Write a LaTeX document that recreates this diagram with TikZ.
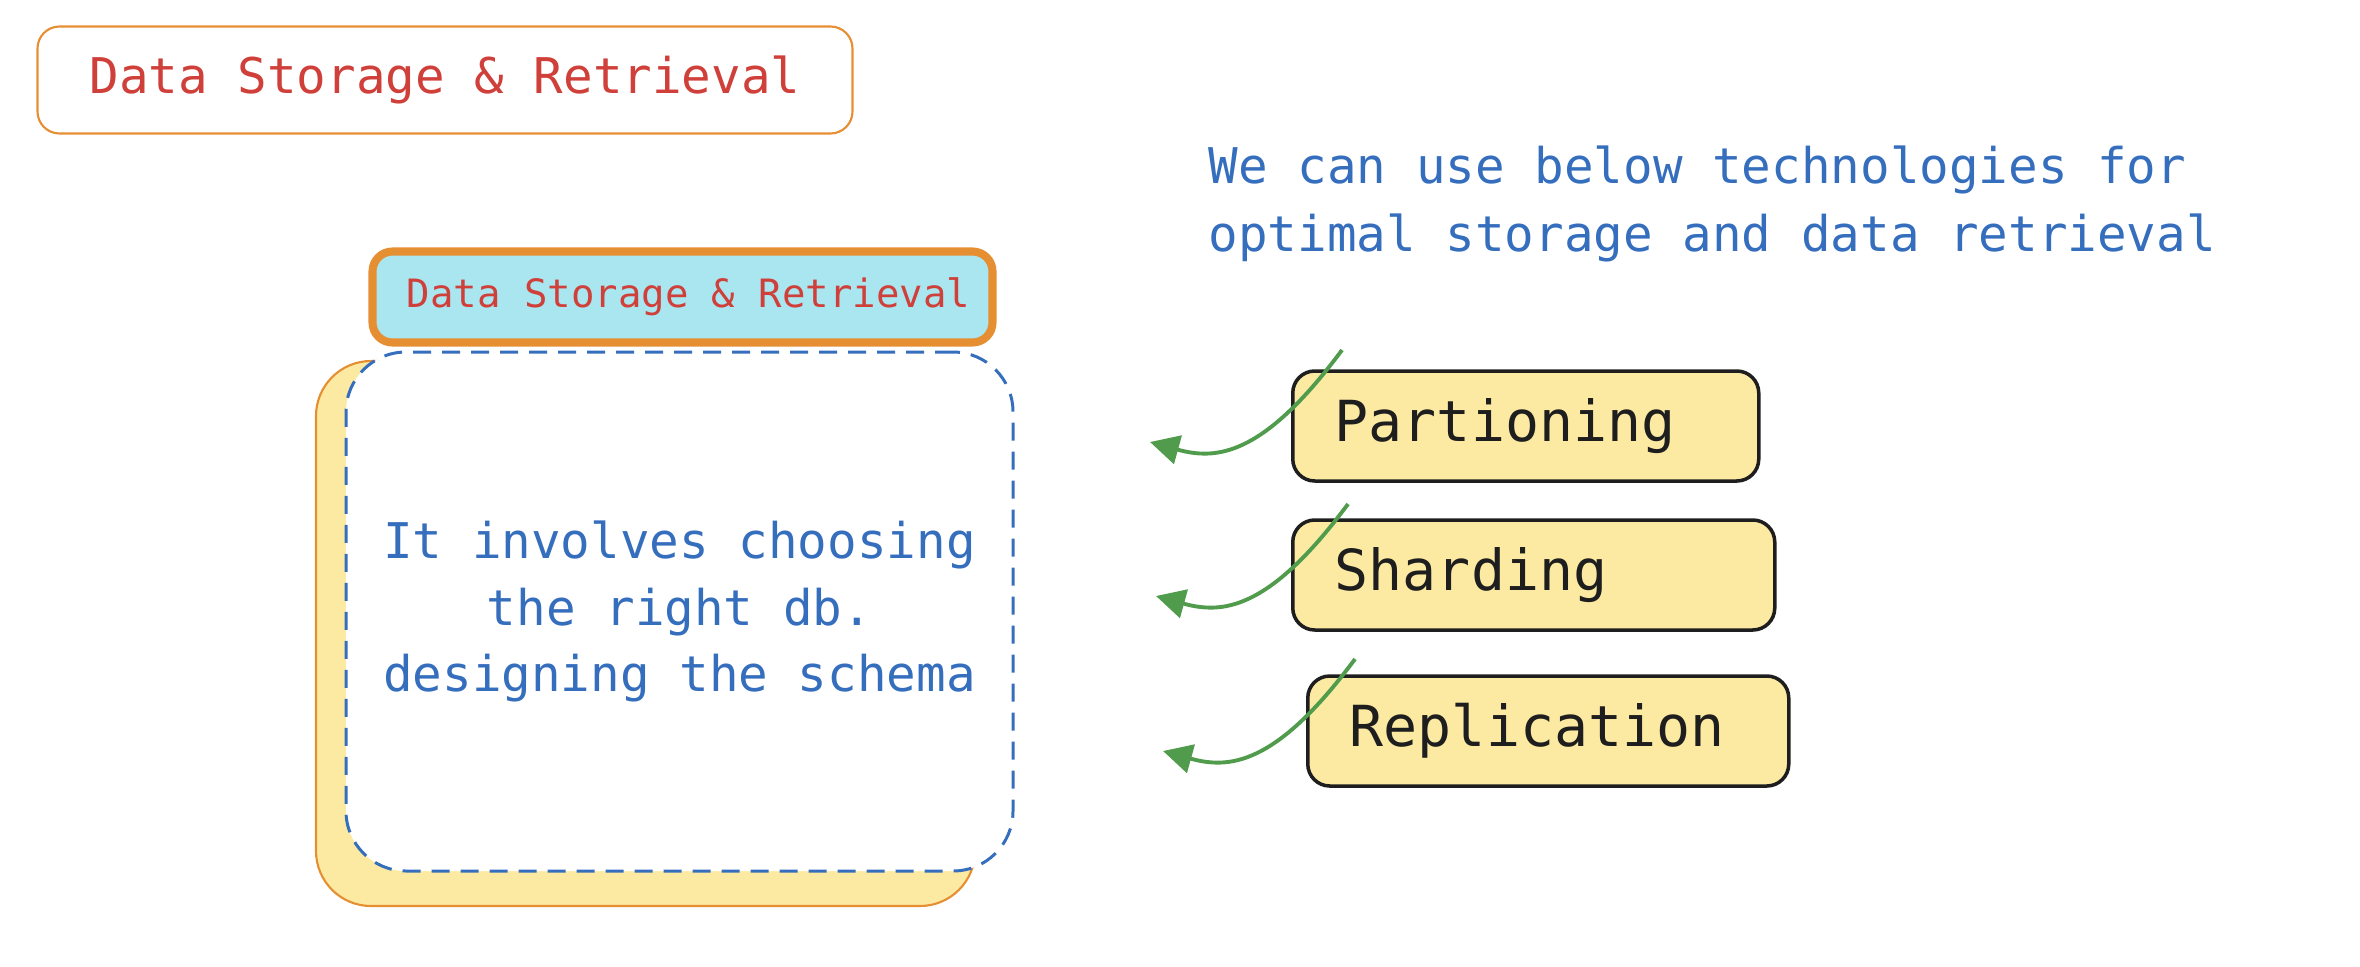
\documentclass[tikz,border=0pt]{standalone}
\usepackage{fontspec}
\setmainfont{DejaVu Sans Mono}
\usetikzlibrary{arrows.meta}
\definecolor{titlered}{RGB}{208,64,58}
\definecolor{noteblue}{RGB}{54,110,190}
\definecolor{edgeorange}{RGB}{230,142,50}
\definecolor{headcyan}{RGB}{170,230,240}
\definecolor{noteyellow}{RGB}{252,234,162}
\definecolor{arrowgreen}{RGB}{80,156,76}
\definecolor{inkblack}{RGB}{30,30,30}
\tikzset{
  titlebox/.style={draw=edgeorange,line width=0.6pt,rounded corners=2.2mm,text=titlered,
    font=\fontsize{14}{17}\selectfont},
  headbox/.style={draw=edgeorange,fill=headcyan,line width=2.3pt,rounded corners=2mm,text=titlered,
    font=\fontsize{11.1}{13}\selectfont},
  notebox/.style={draw=noteblue,fill=white,line width=0.85pt,dash pattern=on 1.8mm off 1.1mm,
    rounded corners=6mm,text=noteblue,align=center,font=\fontsize{14}{19}\selectfont},
  techbox/.style={draw=inkblack,fill=noteyellow,line width=1pt,rounded corners=2.2mm,
    text width=#1,align=left,inner xsep=4.2mm,minimum height=11mm,text=inkblack,
    font=\fontsize{16.1}{19}\selectfont},
  greenarrow/.style={draw=arrowgreen,line width=1.1pt,-{Triangle[length=2.9mm,width=2.9mm]}}
}
\begin{document}
\begin{tikzpicture}[x=0.1mm,y=-0.1mm]
	\useasboundingbox (0,0) rectangle (2360,966);
	\node (title)[titlebox,minimum width=81.5mm,minimum height=10.7mm] at (445,80) {Data Storage \& Retrieval};

	\node (shadow)[draw=edgeorange,fill=noteyellow,line width=0.6pt,rounded corners=5.5mm,
		minimum width=65.9mm,minimum height=54.5mm] at (645.5,633.5) {};
	\node (store)[notebox,minimum width=66.7mm,minimum height=51.9mm] at (679.5,611.5)
		{It involves choosing\\the right db.\\designing the schema};
	\node (head)[headbox,minimum width=62mm,minimum height=9.1mm] at (682.5,297)
		{\hspace{1.2mm}Data Storage \& Retrieval};

	\node (intro)[anchor=west,align=left,inner sep=0pt,text=noteblue,font=\fontsize{14}{19.3}\selectfont]
		at (1208,204) {We can use below technologies for\\optimal storage and data retrieval};

	\node (part)[techbox=38.2mm,anchor=west] at (1291,426) {Partioning};
	\node (shard)[techbox=39.8mm,anchor=west] at (1291,575) {Sharding};
	\node (repl)[techbox=39.7mm,anchor=west] at (1306,731) {Replication};

	\coordinate (p1) at (1342,350); \coordinate (p1e) at (1150,442);
	\coordinate (s1) at (1348,504); \coordinate (s1e) at (1156,596);
	\coordinate (r1) at (1355,659); \coordinate (r1e) at (1163,751);
	\draw[greenarrow] (p1) .. controls (1262,458) and (1215,460) .. (p1e);
	\draw[greenarrow] (s1) .. controls (1268,612) and (1221,614) .. (s1e);
	\draw[greenarrow] (r1) .. controls (1275,767) and (1228,769) .. (r1e);
\end{tikzpicture}
\end{document}
